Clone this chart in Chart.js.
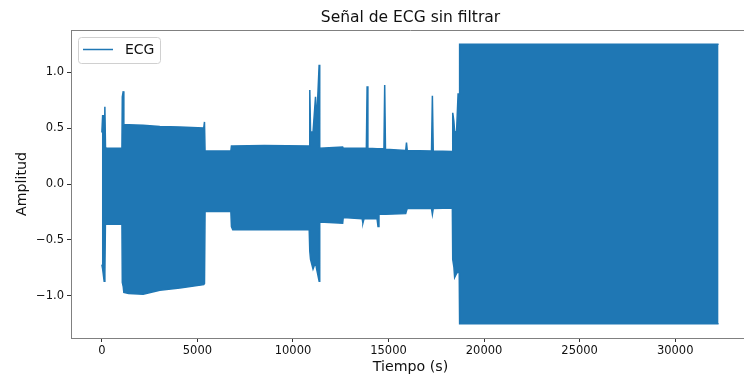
<!DOCTYPE html>
<html>
<head>
<meta charset="utf-8">
<script src="https://cdn.jsdelivr.net/npm/chart.js@4"></script>
<style>
  body { margin: 0; overflow: hidden; background: #fff; }
  #caja { width: 760px; height: 379px; }
</style>
</head>
<body>
<div id="caja"><canvas id="grafico" width="760" height="379"></canvas></div>
<script>
// envolvente de la señal (tiempo, máximo, mínimo)
let tiempo = [0, 40, 120, 157, 190, 230, 1050, 1070, 1120, 1150, 1400, 2160, 3033, 4080, 5330, 5370, 5400,
    6750, 6780, 6850, 8500, 10850, 10880, 10920, 11050, 11180, 11240, 11370, 11400, 12600, 12630,
    13620, 13660, 13720, 13840, 13880, 13920, 14400, 14450, 14500, 14760, 14800, 14840, 15900, 15940,
    15980, 17250, 17295, 17340, 18340, 18360, 18420, 18460, 18560, 18640, 18700, 18720, 32270];
let ampSup = [0.46, 0.61, 0.61, 0.69, 0.33, 0.32, 0.32, 0.78, 0.83, 0.53, 0.53, 0.525, 0.515, 0.51, 0.50, 0.555, 0.295,
    0.295, 0.34, 0.34, 0.345, 0.34, 0.84, 0.465, 0.465, 0.78, 0.55, 1.066, 0.32, 0.33, 0.32,
    0.32, 0.32, 0.32, 0.32, 0.873, 0.32, 0.315, 0.315, 0.315, 0.315, 0.885, 0.31, 0.30, 0.37,
    0.30, 0.295, 0.79, 0.295, 0.29, 0.636, 0.56, 0.465, 0.47, 0.805, 0.805, 1.25, 1.25];
let ampInf = [-0.72, -0.76, -0.87, -0.80, -0.30, -0.36, -0.36, -0.88, -0.92, -0.97, -0.98, -0.985, -0.95, -0.93, -0.90, -0.89, -0.246,
    -0.246, -0.38, -0.41, -0.41, -0.41, -0.60, -0.675, -0.76, -0.70, -0.76, -0.87, -0.34, -0.35, -0.30,
    -0.31, -0.35, -0.31, -0.31, -0.31, -0.31, -0.31, -0.38, -0.27, -0.27, -0.27, -0.27, -0.265, -0.24,
    -0.22, -0.22, -0.27, -0.22, -0.215, -0.675, -0.74, -0.835, -0.80, -0.78, -0.80, -1.25, -1.25];

let ticksX = [0, 5000, 10000, 15000, 20000, 25000, 30000];
let ticksY = [-1.0, -0.5, 0.0, 0.5, 1.0];

let azul = '#1f77b4';
let fuente = 'DejaVu Sans';

let sup = tiempo.map((t, i) => ({ x: t, y: ampSup[i] }));
let inf = tiempo.map((t, i) => ({ x: t, y: ampInf[i] }));

// leyenda y borde superior dibujados a mano
const marco = {
    id: 'marco',
    afterDraw(chart) {
        const c = chart.ctx, a = chart.chartArea;
        c.save();
        c.strokeStyle = '#808080';
        c.lineWidth = 1;
        c.beginPath();
        c.moveTo(a.left, a.top + 0.5);
        c.lineTo(a.right, a.top + 0.5);
        c.moveTo(a.right - 0.5, a.top);
        c.lineTo(a.right - 0.5, a.bottom);
        c.stroke();

        // caja de leyenda
        const x0 = 78.5, y0 = 37.5, w = 82, h = 26, r = 3;
        c.fillStyle = 'rgba(255,255,255,0.8)';
        c.strokeStyle = '#d0d0d0';
        c.beginPath();
        c.moveTo(x0 + r, y0);
        c.arcTo(x0 + w, y0, x0 + w, y0 + h, r);
        c.arcTo(x0 + w, y0 + h, x0, y0 + h, r);
        c.arcTo(x0, y0 + h, x0, y0, r);
        c.arcTo(x0, y0, x0 + w, y0, r);
        c.closePath();
        c.fill();
        c.stroke();

        c.strokeStyle = azul;
        c.lineWidth = 1.5;
        c.beginPath();
        c.moveTo(83, 49.5);
        c.lineTo(113, 49.5);
        c.stroke();

        c.fillStyle = '#111';
        c.font = '14px "' + fuente + '"';
        c.textBaseline = 'middle';
        c.fillText(chart.data.datasets[0].label, 125, 50);
        c.restore();
    }
};

let ctx = document.getElementById('grafico');
let myChart = new Chart(ctx, {
    type: 'line',
    data: {
        datasets: [{
            label: 'ECG',
            data: sup,
            borderColor: azul,
            borderWidth: 1.5,
            pointRadius: 0,
            fill: false
        }, {
            label: 'ECG inf',
            data: inf,
            borderColor: azul,
            backgroundColor: azul,
            borderWidth: 1.5,
            pointRadius: 0,
            fill: '-1'
        }]
    },
    options: {
        responsive: false,
        animation: false,
        devicePixelRatio: 1,
        layout: { padding: { left: 0, right: 10, top: 0, bottom: 0 } },
        plugins: {
            legend: { display: false },
            tooltip: { enabled: false },
            title: {
                display: true,
                text: 'Señal de ECG sin filtrar',
                fullSize: false,
                color: '#111',
                font: { family: fuente, size: 15.5, weight: 'normal', lineHeight: 1.2 },
                padding: { top: 9, bottom: 2.4 }
            }
        },
        scales: {
            x: {
                type: 'linear',
                min: -1615,
                max: 33915,
                afterFit: s => { s.height = 41; },
                afterBuildTicks: s => { s.ticks = ticksX.map(v => ({ value: v })); },
                grid: { drawOnChartArea: false, drawTicks: true, tickLength: 4, color: '#333' },
                border: { display: true, color: '#808080', width: 1 },
                ticks: {
                    color: '#111',
                    padding: 2,
                    maxRotation: 0,
                    autoSkip: false,
                    font: { family: fuente, size: 11.5 },
                    callback: v => String(v)
                },
                title: {
                    display: true,
                    text: 'Tiempo (s)',
                    color: '#111',
                    font: { family: fuente, size: 14.2 },
                    padding: { top: 3, bottom: 3 }
                }
            },
            y: {
                min: -1.377,
                max: 1.377,
                afterFit: s => { s.width = 71; },
                afterBuildTicks: s => { s.ticks = ticksY.map(v => ({ value: v })); },
                grid: { drawOnChartArea: false, drawTicks: true, tickLength: 4, color: '#333' },
                border: { display: true, color: '#808080', width: 1 },
                ticks: {
                    color: '#111',
                    padding: 3,
                    font: { family: fuente, size: 11.5 },
                    callback: v => v.toFixed(1).replace('-', '\u2212')
                },
                title: {
                    display: true,
                    text: 'Amplitud',
                    color: '#111',
                    font: { family: fuente, size: 14.2 },
                    padding: { top: 13.5, bottom: 13.5 }
                }
            }
        }
    },
    plugins: [marco]
});
</script>
</body>
</html>
